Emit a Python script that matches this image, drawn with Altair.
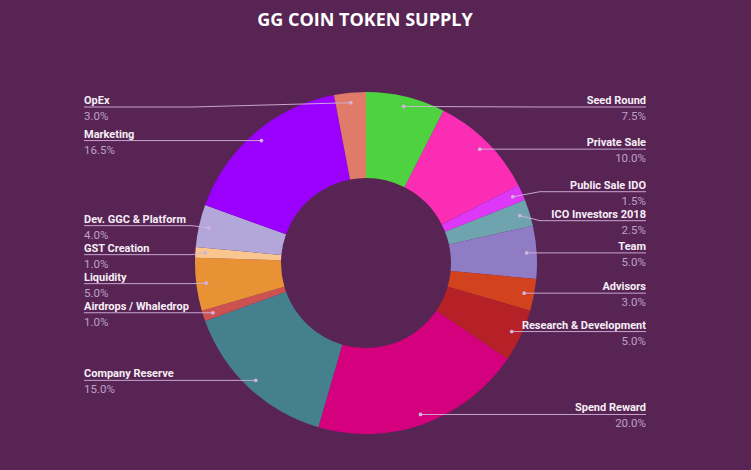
import altair as alt
import numpy as np
import pandas as pd

# ---- data ----
title_text = "GG COIN TOKEN SUPPLY"
categories = ["Seed Round", "Private Sale", "Public Sale IDO", "ICO Investors 2018", "Team",
              "Advisors", "Research & Development", "Spend Reward", "Company Reserve",
              "Airdrops / Whaledrop", "Liquidity", "GST Creation", "Dev. GGC & Platform",
              "Marketing", "OpEx"]
values = [7.5, 10.0, 1.5, 2.5, 5.0, 3.0, 5.0, 20.0, 15.0, 1.0, 5.0, 1.0, 4.0, 16.5, 3.0]
colors = ["#4ed23f", "#fb2db5", "#df37f7", "#6fa3ad", "#8f7cc4", "#d2421f", "#b52126",
          "#d5007d", "#45808e", "#cc5252", "#e89135", "#f9c68f", "#b3a6d8", "#9b00ff", "#df7b68"]

# ---- layout / style ----
W, H = 751, 470
CX, CY = 366, 263
R_OUT, R_IN, R_DOT, R_ELBOW = 171, 85, 161, 174
LEFT_X, RIGHT_X = 84, 646
MIN_GAP, TOP_Y = 29, 107
BG = "#582454"
LINE_C = "#d2b4da"
NAME_C = "#f6eef6"
PCT_C = "#bba2c8"

vals = np.array(values, dtype=float)
total = vals.sum()
mid = (np.cumsum(vals) - vals / 2) / total * 2 * np.pi
dot_x = CX + R_DOT * np.sin(mid)
dot_y = CY - R_DOT * np.cos(mid)
right = np.sin(mid) > 0

# label y positions: start at dot y and relax to avoid overlap
label_y = dot_y.copy()
for side in (True, False):
    idx = [i for i in range(len(vals)) if right[i] == side]
    idx.sort(key=lambda i: dot_y[i])
    for _ in range(200):
        for a, b in zip(idx[:-1], idx[1:]):
            gap = label_y[b] - label_y[a]
            if gap < MIN_GAP:
                d = (MIN_GAP - gap) / 2
                label_y[a] -= d
                label_y[b] += d
        for i in idx:
            label_y[i] = max(label_y[i], TOP_Y)

elbow_x = np.where(right, CX + R_ELBOW, CX - R_ELBOW)
end_x = np.where(right, RIGHT_X, LEFT_X)

df = pd.DataFrame({
    "cat": categories,
    "value": values,
    "idx": list(range(len(values))),
    "pct": [f"{v:.1f}%" for v in values],
    "dx": dot_x, "dy": dot_y,
    "ex": elbow_x, "ly": label_y,
    "lx": end_x,
    "right": right,
})
df["name_y"] = df["ly"] - 3
df["pct_y"] = df["ly"] + 13

base = alt.Chart(df)
xs = lambda f: alt.X(f, type="quantitative", scale=None, axis=None)
ys = lambda f: alt.Y(f, type="quantitative", scale=None, axis=None)

arcs = base.mark_arc(innerRadius=R_IN, radius=R_OUT).encode(
    theta=alt.Theta("value:Q", stack=True),
    order=alt.Order("idx:Q", sort="ascending"),
    color=alt.Color("cat:N", scale=alt.Scale(domain=categories, range=colors), legend=None),
    x=alt.value(CX), y=alt.value(CY),
)

seg1 = base.mark_rule(color=LINE_C, strokeWidth=1, opacity=0.9).encode(
    x=xs("dx"), y=ys("dy"), x2=alt.X2("ex"), y2=alt.Y2("ly"))
seg2 = base.mark_rule(color=LINE_C, strokeWidth=1, opacity=0.9).encode(
    x=xs("ex"), y=ys("ly"), x2=alt.X2("lx"), y2=alt.Y2("ly"))
dots = base.mark_circle(color=LINE_C, size=14, opacity=1).encode(x=xs("dx"), y=ys("dy"))

layers = [arcs, seg1, seg2, dots]
for side, align in ((True, "right"), (False, "left")):
    sub = alt.Chart(df[df["right"] == side])
    layers.append(sub.mark_text(align=align, baseline="alphabetic", font="Roboto",
                                fontSize=11, fontWeight="bold", color=NAME_C).encode(
        x=xs("lx"), y=ys("name_y"), text="cat:N"))
    layers.append(sub.mark_text(align=align, baseline="alphabetic", font="Roboto",
                                fontSize=11.5, color=PCT_C).encode(
        x=xs("lx"), y=ys("pct_y"), text="pct:N"))

title = alt.Chart(pd.DataFrame({"t": [title_text]})).mark_text(
    font="Open Sans", fontSize=18, fontWeight="bold", color="#ffffff", baseline="middle", align="center"
).encode(x=alt.value(365), y=alt.value(21), text="t:N")
layers.append(title)

chart = alt.layer(*layers).properties(
    width=W, height=H, autosize=alt.AutoSizeParams(type="none"), padding=0, background=BG
).configure_view(stroke=None)

chart.save("out.html", embed_options={"renderer": "svg", "actions": False})
